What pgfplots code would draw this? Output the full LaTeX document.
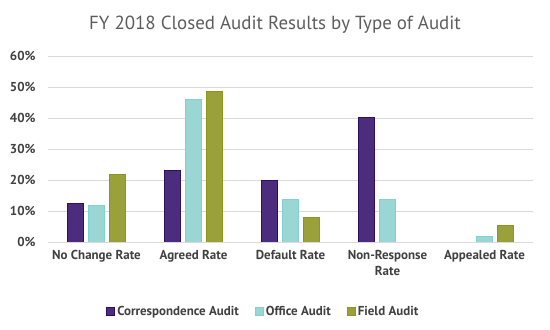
\documentclass[border=0pt]{standalone}
\usepackage{pgfplots}
\pgfplotsset{compat=1.18}
\usepackage{fontspec}
\setmainfont{PT Sans}
\definecolor{corrF}{HTML}{4B2C7D}
\definecolor{corrD}{HTML}{2E0F66}
\definecolor{offF}{HTML}{9AD7D4}
\definecolor{offD}{HTML}{80D2D2}
\definecolor{fldF}{HTML}{9BA13A}
\definecolor{fldD}{HTML}{8A9812}
\definecolor{txt}{HTML}{404040}
\begin{document}
\begin{tikzpicture}
\path[use as bounding box] (0,0) rectangle (550bp,330bp);
\node[text=txt!85, font=\fontsize{19}{22}\selectfont, anchor=center] at (275bp,305bp) {FY 2018 Closed Audit Results by Type of Audit};
\begin{axis}[
  at={(48bp,88bp)}, anchor=south west,
  scale only axis, width=485bp, height=186bp,
  xmin=-0.5, xmax=4.5, ymin=0, ymax=60,
  ytick={0,10,...,60},
  yticklabel={\pgfmathprintnumber{\tick}\%},
  /pgf/number format/assume math mode=true,
  xtick={0,1,2,3,4},
  xticklabels={No Change Rate, Agreed Rate, Default Rate, {Non-Response\\Rate}, Appealed Rate},
  xticklabel style={align=center, font=\fontsize{13}{16}\selectfont\bfseries, text=txt, yshift=-5bp},
  yticklabel style={font=\fontsize{13}{15}\selectfont\bfseries, text=txt, xshift=-9bp},
  major tick length=0pt,
  axis line style={draw=none},
  ymajorgrids, grid style={draw=black!15, line width=0.8pt},
  ybar, bar width=16bp,
  legend style={draw=none, at={(0.444,-0.375)}, anchor=center, legend columns=3,
    font=\fontsize{13}{15}\selectfont\bfseries, text=txt,
    /tikz/every even column/.append style={column sep=14bp}},
  legend image code/.code={\draw[#1] (0bp,-4bp) rectangle (8bp,4bp);},
]
\addplot[fill=corrF, draw=corrD, line width=1pt, bar shift=-21bp] coordinates {(0,12.3) (1,23.0) (2,20.0) (3,40.2)};
\addplot[fill=offF, draw=offD, line width=1pt, bar shift=0bp] coordinates {(0,11.9) (1,46.0) (2,13.7) (3,13.7) (4,1.8)};
\addplot[fill=fldF, draw=fldD, line width=1pt, bar shift=21bp] coordinates {(0,21.9) (1,48.6) (2,7.8) (4,5.3)};
\legend{Correspondence Audit, Office Audit, Field Audit}
\end{axis}
\end{tikzpicture}
\end{document}
